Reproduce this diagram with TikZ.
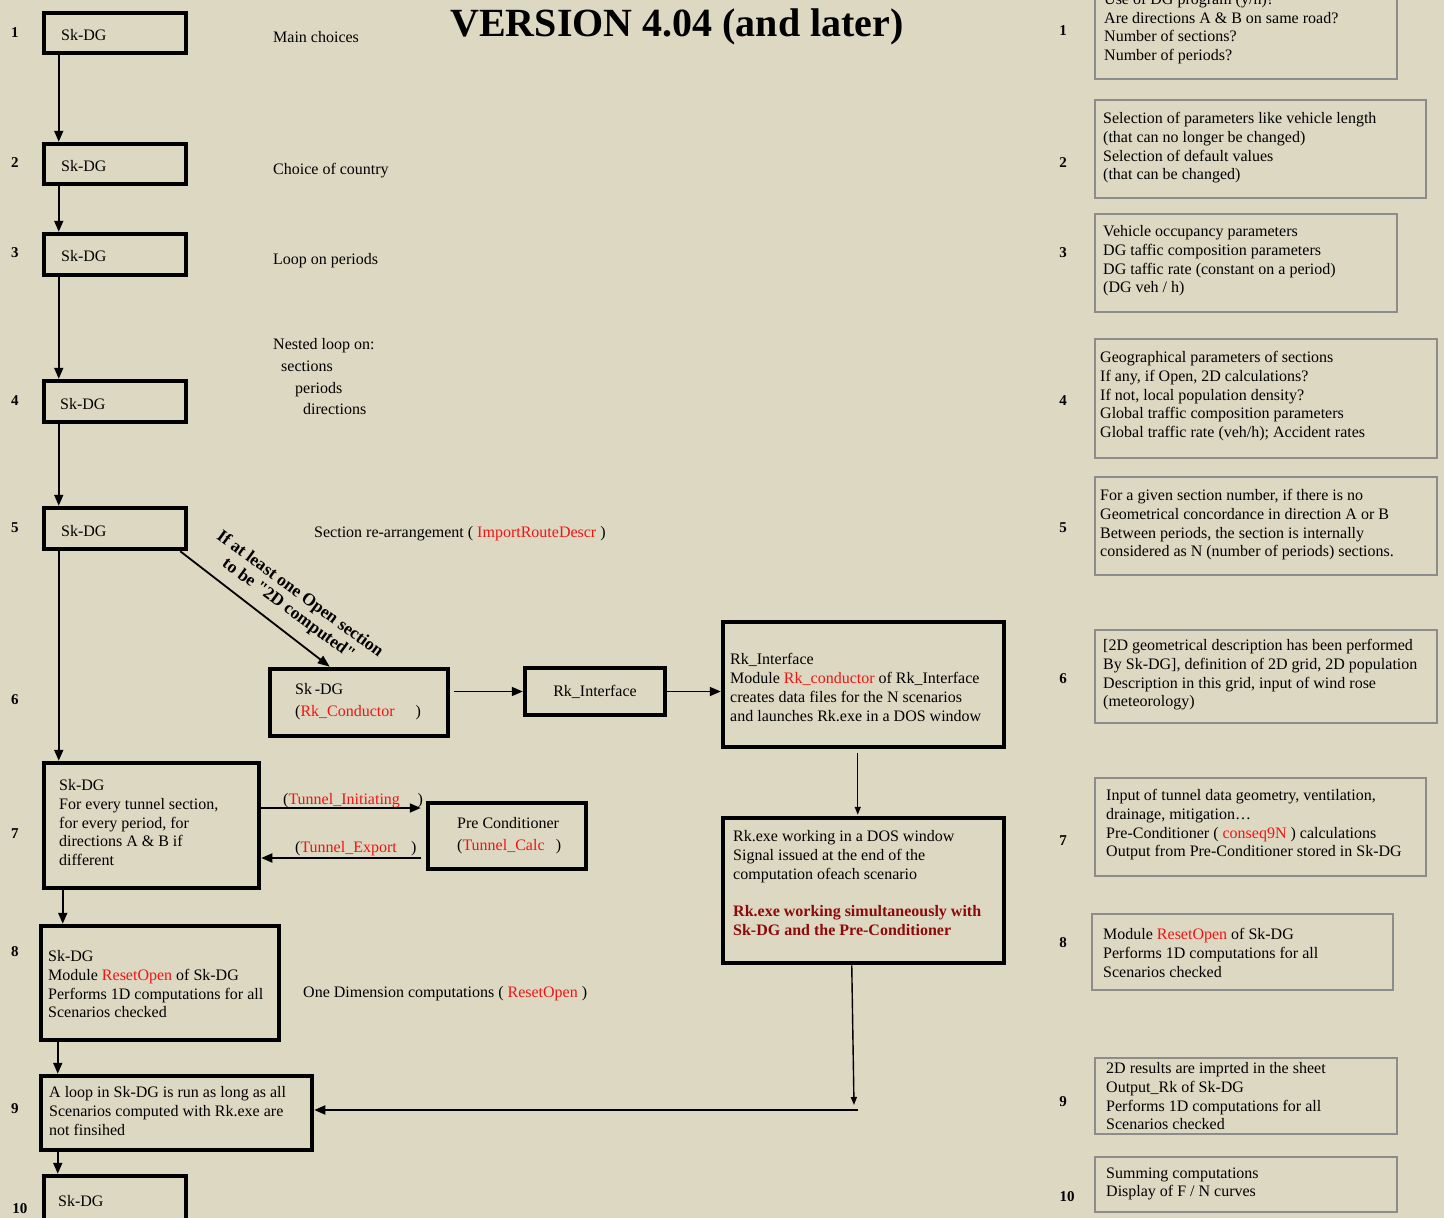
\documentclass[tikz,border=0pt]{standalone}
\usepackage{fontspec}
\setmainfont{Liberation Serif}
\usetikzlibrary{arrows.meta}
\definecolor{paper}{RGB}{220,216,194}
\definecolor{hot}{RGB}{240,20,20}
\definecolor{deep}{RGB}{140,10,10}
\definecolor{frame}{RGB}{140,140,140}
\newcommand{\hot}[1]{\textcolor{hot}{#1}}
% rectangle node from its corner coordinates
\newcommand{\mkbox}[6]{\node[#1, minimum width={(#5-#3)*1pt}, minimum height={(#6-#4)*1pt}] (#2) at ({(#3+#5)/2},{(#4+#6)/2}) {};}
\begin{document}
\begin{tikzpicture}[x=1pt,y=-1pt,
  lbox/.style={draw=black, line width=4.5pt, inner sep=0pt},
  rbox/.style={draw=frame, line width=2.5pt, inner sep=0pt},
  % text blocks are placed by the baseline of their first line
  txt/.style={font=\fontsize{16}{18.6}\selectfont, anchor=north west, yshift=11.5pt, align=left, inner sep=0pt,
    execute at begin node={\rule{0pt}{13pt}}},
  num/.style={font=\fontsize{15}{18}\selectfont\bfseries, inner sep=0pt},
  arr/.style={line width=1.8pt, -{Triangle[length=11pt,width=9pt]}},
  thinarr/.style={line width=1.4pt, -{Triangle[length=8pt,width=6pt]}}]
\useasboundingbox[fill=paper] (0,0) rectangle (1444,1218);

% title
\node[font=\fontsize{40}{40}\selectfont\bfseries, anchor=base, inner sep=0pt] (title) at (677,36) {VERSION 4.04 (and later)};

% ---- left column boxes
\mkbox{lbox}{b1}{44}{13}{186}{53}
\mkbox{lbox}{b2}{44}{144}{186}{184}
\mkbox{lbox}{b3}{44}{234}{186}{275}
\mkbox{lbox}{b4}{44}{381}{186}{422}
\mkbox{lbox}{b5}{44}{508}{186}{549}
\mkbox{lbox}{b6}{270}{669}{448}{736}
\mkbox{lbox}{bri}{525}{668}{665}{715}
\mkbox{lbox}{bbig}{723}{622}{1004}{747}
\mkbox{lbox}{b7}{44}{763}{259}{888}
\mkbox{lbox}{bpc}{428}{803}{586}{869}
\mkbox{lbox}{brk}{723}{818}{1004}{963}
\mkbox{lbox}{b8}{41}{926}{279}{1040}
\mkbox{lbox}{b9}{41}{1076}{312}{1150}
\mkbox{lbox}{b10}{44}{1176}{186}{1240}

\node[txt] (t1) at (61,39) {Sk-DG};
\node[txt] (t2) at (61,170) {Sk-DG};
\node[txt] (t3) at (61,260) {Sk-DG};
\node[txt] (t4) at (60,408) {Sk-DG};
\node[txt] (t5) at (61,535) {Sk-DG};
\node[txt, font=\fontsize{16}{22}\selectfont] (t6) at (295,695) {Sk\,-DG\\(\hot{Rk\_Conductor}\hspace{1.3em})};
\node[font=\fontsize{16}{18}\selectfont, inner sep=0pt] (tri) at (bri) {Rk\_Interface};
\node[txt, font=\fontsize{16}{19}\selectfont] (tbig) at (730,665) {Rk\_Interface\\Module \hot{Rk\_conductor} of Rk\_Interface\\creates data files for the N scenarios\\and launches Rk.exe in a DOS window};
\node[txt] (t7) at (59,791) {Sk-DG\\For every tunnel section,\\for every period, for\\directions A \& B if\\different};
\node[txt, font=\fontsize{16}{22}\selectfont] (tpc) at (457,829) {Pre Conditioner\\(\hot{Tunnel\_Calc}\hspace{0.7em})};
\node[txt, font=\fontsize{16}{19}\selectfont] (trk) at (733,842) {Rk.exe working in a DOS window\\Signal issued at the end of the\\computation ofeach scenario\\[18pt]\textcolor{deep}{\bfseries Rk.exe working simultaneously with}\\\textcolor{deep}{\bfseries Sk-DG and the Pre-Conditioner}};
\node[txt] (t8) at (48,962) {Sk-DG\\Module \hot{ResetOpen} of Sk-DG\\Performs 1D computations for all\\Scenarios checked};
\node[txt] (t9) at (49,1098) {A loop in Sk-DG is run as long as all\\Scenarios computed with Rk.exe are\\not finsihed};
\node[txt] (t10) at (58,1205) {Sk-DG};

% ---- middle annotations
\node[txt] (m1) at (273,41) {Main choices};
\node[txt] (m2) at (273,173) {Choice of country};
\node[txt] (m3) at (273,263) {Loop on periods};
\node[txt, font=\fontsize{16}{21.7}\selectfont] (m4) at (273,350) {Nested loop on:\\\hspace*{8pt}sections\\\hspace*{22pt}periods\\\hspace*{30pt}directions};
\node[txt] (m5) at (314,536) {Section re-arrangement ( \hot{ImportRouteDescr} )};
\node[txt] (m8) at (303,996) {One Dimension computations ( \hot{ResetOpen} )};

% ---- left step numbers
\node[num] (n1) at (15,33) {1};
\node[num] (n2) at (15,163) {2};
\node[num] (n3) at (15,253) {3};
\node[num] (n4) at (15,401) {4};
\node[num] (n5) at (15,528) {5};
\node[num] (n6) at (15,700) {6};
\node[num] (n7) at (15,834) {7};
\node[num] (n8) at (15,952) {8};
\node[num] (n9) at (15,1109) {9};
\node[num] (n10) at (20,1209) {10};

% ---- connectors
\draw[arr] ([xshift=17pt]b1.south west) -- ([xshift=17pt]b1.south west |- b2.north);
\draw[arr] ([xshift=17pt]b2.south west) -- ([xshift=17pt]b2.south west |- b3.north);
\draw[arr] ([xshift=17pt]b3.south west) -- ([xshift=17pt]b3.south west |- b4.north);
\draw[arr] ([xshift=17pt]b4.south west) -- ([xshift=17pt]b4.south west |- b5.north);
\draw[arr] ([xshift=17pt]b5.south west) -- ([xshift=17pt]b5.south west |- b7.north);
\draw[line width=1.8pt, -{Triangle[length=12pt,width=9pt]}] ([xshift=-8pt]b5.south east) -- ([xshift=62pt]b6.north west);
\draw[arr, shorten <=4pt] (b6.east |- bri) -- (bri.west);
\draw[arr] (bri.east) -- (bbig.west |- bri);
\draw[thinarr, shorten <=4pt, shorten >=1pt] ([xshift=137pt]bbig.south west) -- ([xshift=137pt]bbig.south west |- brk.north);
\draw[arr, shorten >=5pt] (b7.east |- 0,808) -- (bpc.west |- 0,808);
\draw[arr, shorten <=5pt] (bpc.west |- 0,858) -- (b7.east |- 0,858);
\draw[arr] ([xshift=21pt]b7.south west) -- ([xshift=21pt]b7.south west |- b8.north);
\draw[arr] ([xshift=19pt]b8.south west) -- ([xshift=19pt]b8.south west |- b9.north);
\draw[arr] ([xshift=19pt]b9.south west) -- ([xshift=19pt]b9.south west |- b10.north);
\coordinate (j1) at (854,1105);
\coordinate (j2) at (858,1110);
\draw[thinarr] ([xshift=131pt]brk.south west) -- (j1);
\draw[arr] (j2) -- (j2 -| b9.east);

% connector labels
\node[txt] (l1) at (283,803) {(\hot{Tunnel\_Initiating}\hspace{1.1em})};
\node[txt] (l2) at (295,851) {(\hot{Tunnel\_Export}\hspace{0.9em})};
\node[font=\fontsize{17.5}{19}\selectfont\bfseries, align=center, rotate=-36.3, inner sep=0pt] (diag) at (294,602) {If at least one Open section\\to be \textquotedbl 2D computed\textquotedbl};

% ---- right column
\mkbox{rbox}{r1}{1095}{-20}{1397}{79}
\mkbox{rbox}{r2}{1095}{100}{1426}{198}
\mkbox{rbox}{r3}{1095}{214}{1397}{312}
\mkbox{rbox}{r4}{1095}{339}{1437}{458}
\mkbox{rbox}{r5}{1095}{477}{1437}{575}
\mkbox{rbox}{r6}{1095}{630}{1437}{723}
\mkbox{rbox}{r7}{1095}{778}{1426}{876}
\mkbox{rbox}{r8}{1092}{914}{1393}{990}
\mkbox{rbox}{r9}{1095}{1058}{1397}{1134}
\mkbox{rbox}{r10}{1095}{1157}{1397}{1212}

\node[txt] (s1) at (1104,4.5) {Use of DG program (y/n)?\\Are directions A \& B on same road?\\Number of sections?\\Number of periods?};
\node[txt] (s2) at (1103,124) {Selection of parameters like vehicle length\\(that can no longer be changed)\\Selection of default values\\(that can be changed)};
\node[txt] (s3) at (1103,237) {Vehicle occupancy parameters\\DG taffic composition parameters\\DG taffic rate (constant on a period)\\(DG veh / h)};
\node[txt] (s4) at (1100,363) {Geographical parameters of sections\\If any, if Open, 2D calculations?\\If not, local population density?\\Global traffic composition parameters\\Global traffic rate (veh/h); Accident rates};
\node[txt] (s5) at (1100,501) {For a given section number, if there is no\\Geometrical concordance in direction A or B\\Between periods, the section is internally\\considered as N (number of periods) sections.};
\node[txt] (s6) at (1103,651) {[2D geometrical description has been performed\\By Sk-DG], definition of 2D grid, 2D population\\Description in this grid, input of wind rose\\(meteorology)};
\node[txt] (s7) at (1106,801) {Input of tunnel data geometry, ventilation,\\drainage, mitigation…\\Pre-Conditioner ( \hot{conseq9N} ) calculations\\Output from Pre-Conditioner stored in Sk-DG};
\node[txt] (s8) at (1103,940) {Module \hot{ResetOpen} of Sk-DG\\Performs 1D computations for all\\Scenarios checked};
\node[txt] (s9) at (1106,1074) {2D results are imprted in the sheet\\Output\_Rk of Sk-DG\\Performs 1D computations for all\\Scenarios checked};
\node[txt] (s10) at (1106,1179) {Summing computations\\Display of F / N curves};

\node[num] (q1) at (1063,31) {1};
\node[num] (q2) at (1063,163) {2};
\node[num] (q3) at (1063,253) {3};
\node[num] (q4) at (1063,401) {4};
\node[num] (q5) at (1063,528) {5};
\node[num] (q6) at (1063,679) {6};
\node[num] (q7) at (1063,841) {7};
\node[num] (q8) at (1063,943) {8};
\node[num] (q9) at (1063,1102) {9};
\node[num] (q10) at (1067,1197) {10};
\end{tikzpicture}
\end{document}
